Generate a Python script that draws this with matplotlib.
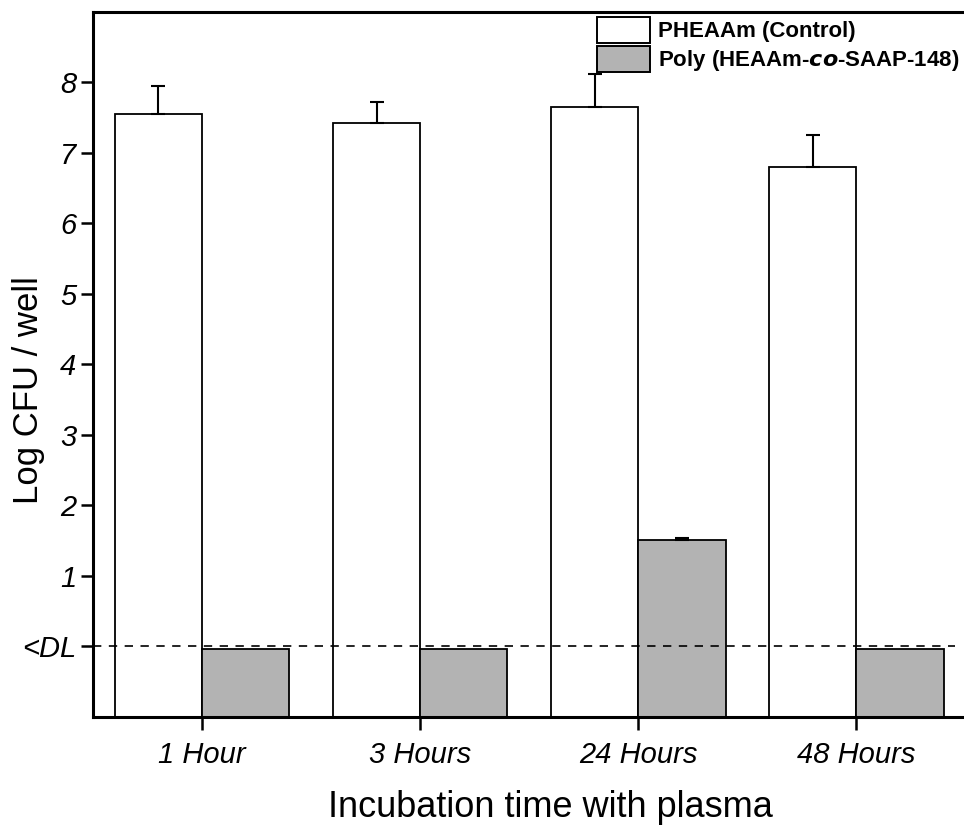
import matplotlib
matplotlib.use("Agg")
import matplotlib.pyplot as plt
import numpy as np

plt.rcParams['font.family'] = ['Liberation Sans', 'DejaVu Sans']

categories = ["1 Hour", "3 Hours", "24 Hours", "48 Hours"]
control_vals = [7.55, 7.42, 7.65, 6.80]
control_err = [0.40, 0.30, 0.47, 0.45]
poly_vals = [-0.03, -0.03, 1.51, -0.03]
poly_err = [0.0, 0.0, 0.03, 0.0]
ytick_vals = [0, 1, 2, 3, 4, 5, 6, 7, 8]
ytick_labels = ["<DL", "1", "2", "3", "4", "5", "6", "7", "8"]
series_names = ["PHEAAm (Control)", "Poly (HEAAm-$\\mathbfit{co}$-SAAP-148)"]

fig = plt.figure(figsize=(9.64, 8.25), dpi=100)
ax = fig.add_axes([0.0965, 0.131, 0.905, 0.8545])

x = np.arange(len(categories))
w = 0.4
bottom = -1.0
ax.bar(x - w/2, np.array(control_vals) - bottom, width=w, bottom=bottom,
       color='white', edgecolor='black', linewidth=1.3, align='center',
       label=series_names[0], zorder=2)
ax.bar(x + w/2, np.array(poly_vals) - bottom, width=w, bottom=bottom,
       color='#b3b3b3', edgecolor='black', linewidth=1.3, align='center',
       label=series_names[1], zorder=2)
ax.errorbar(x - w/2, control_vals, yerr=[np.zeros(4), control_err], fmt='none',
            ecolor='black', elinewidth=1.5, capsize=5, capthick=1.5, zorder=3)
ax.errorbar(x[2:3] + w/2, poly_vals[2:3], yerr=[[0], poly_err[2:3]], fmt='none',
            ecolor='black', elinewidth=1.5, capsize=5, capthick=1.5, zorder=3)

ax.axhline(0, color='black', linestyle=(0, (5, 4.5)), linewidth=1.2, zorder=4,
           xmin=0, xmax=0.988)

ax.set_xlim(-0.5, 3.5)
ax.set_ylim(-1, 9)
ax.set_yticks(ytick_vals)
ax.set_yticklabels(ytick_labels, fontsize=21, style='italic')
ax.set_xticks(x)
ax.set_xticklabels(categories, fontsize=21, style='italic')
ax.tick_params(axis='both', direction='out', length=9, width=1.8)
ax.tick_params(axis='y', pad=3)
ax.tick_params(axis='x', pad=8)
for s in ['left', 'top', 'bottom']:
    ax.spines[s].set_linewidth(2.2)
ax.spines['right'].set_visible(False)

ax.set_ylabel("Log CFU / well", fontsize=25)
ax.yaxis.set_label_coords(-0.055, 0.464)
ax.set_xlabel("Incubation time with plasma", fontsize=26)
ax.xaxis.set_label_coords(0.524, -0.103)

leg = fig.legend(loc='upper left', bbox_to_anchor=(0.6193, 0.9795), frameon=False,
                 prop={'weight': 'bold', 'size': 16}, handlelength=2.4,
                 handleheight=1.4, handletextpad=0.36, labelspacing=0.15,
                 borderaxespad=0, borderpad=0)
for p in leg.get_patches():
    p.set_linewidth(1.4)

fig.savefig("out.png", dpi=100)
